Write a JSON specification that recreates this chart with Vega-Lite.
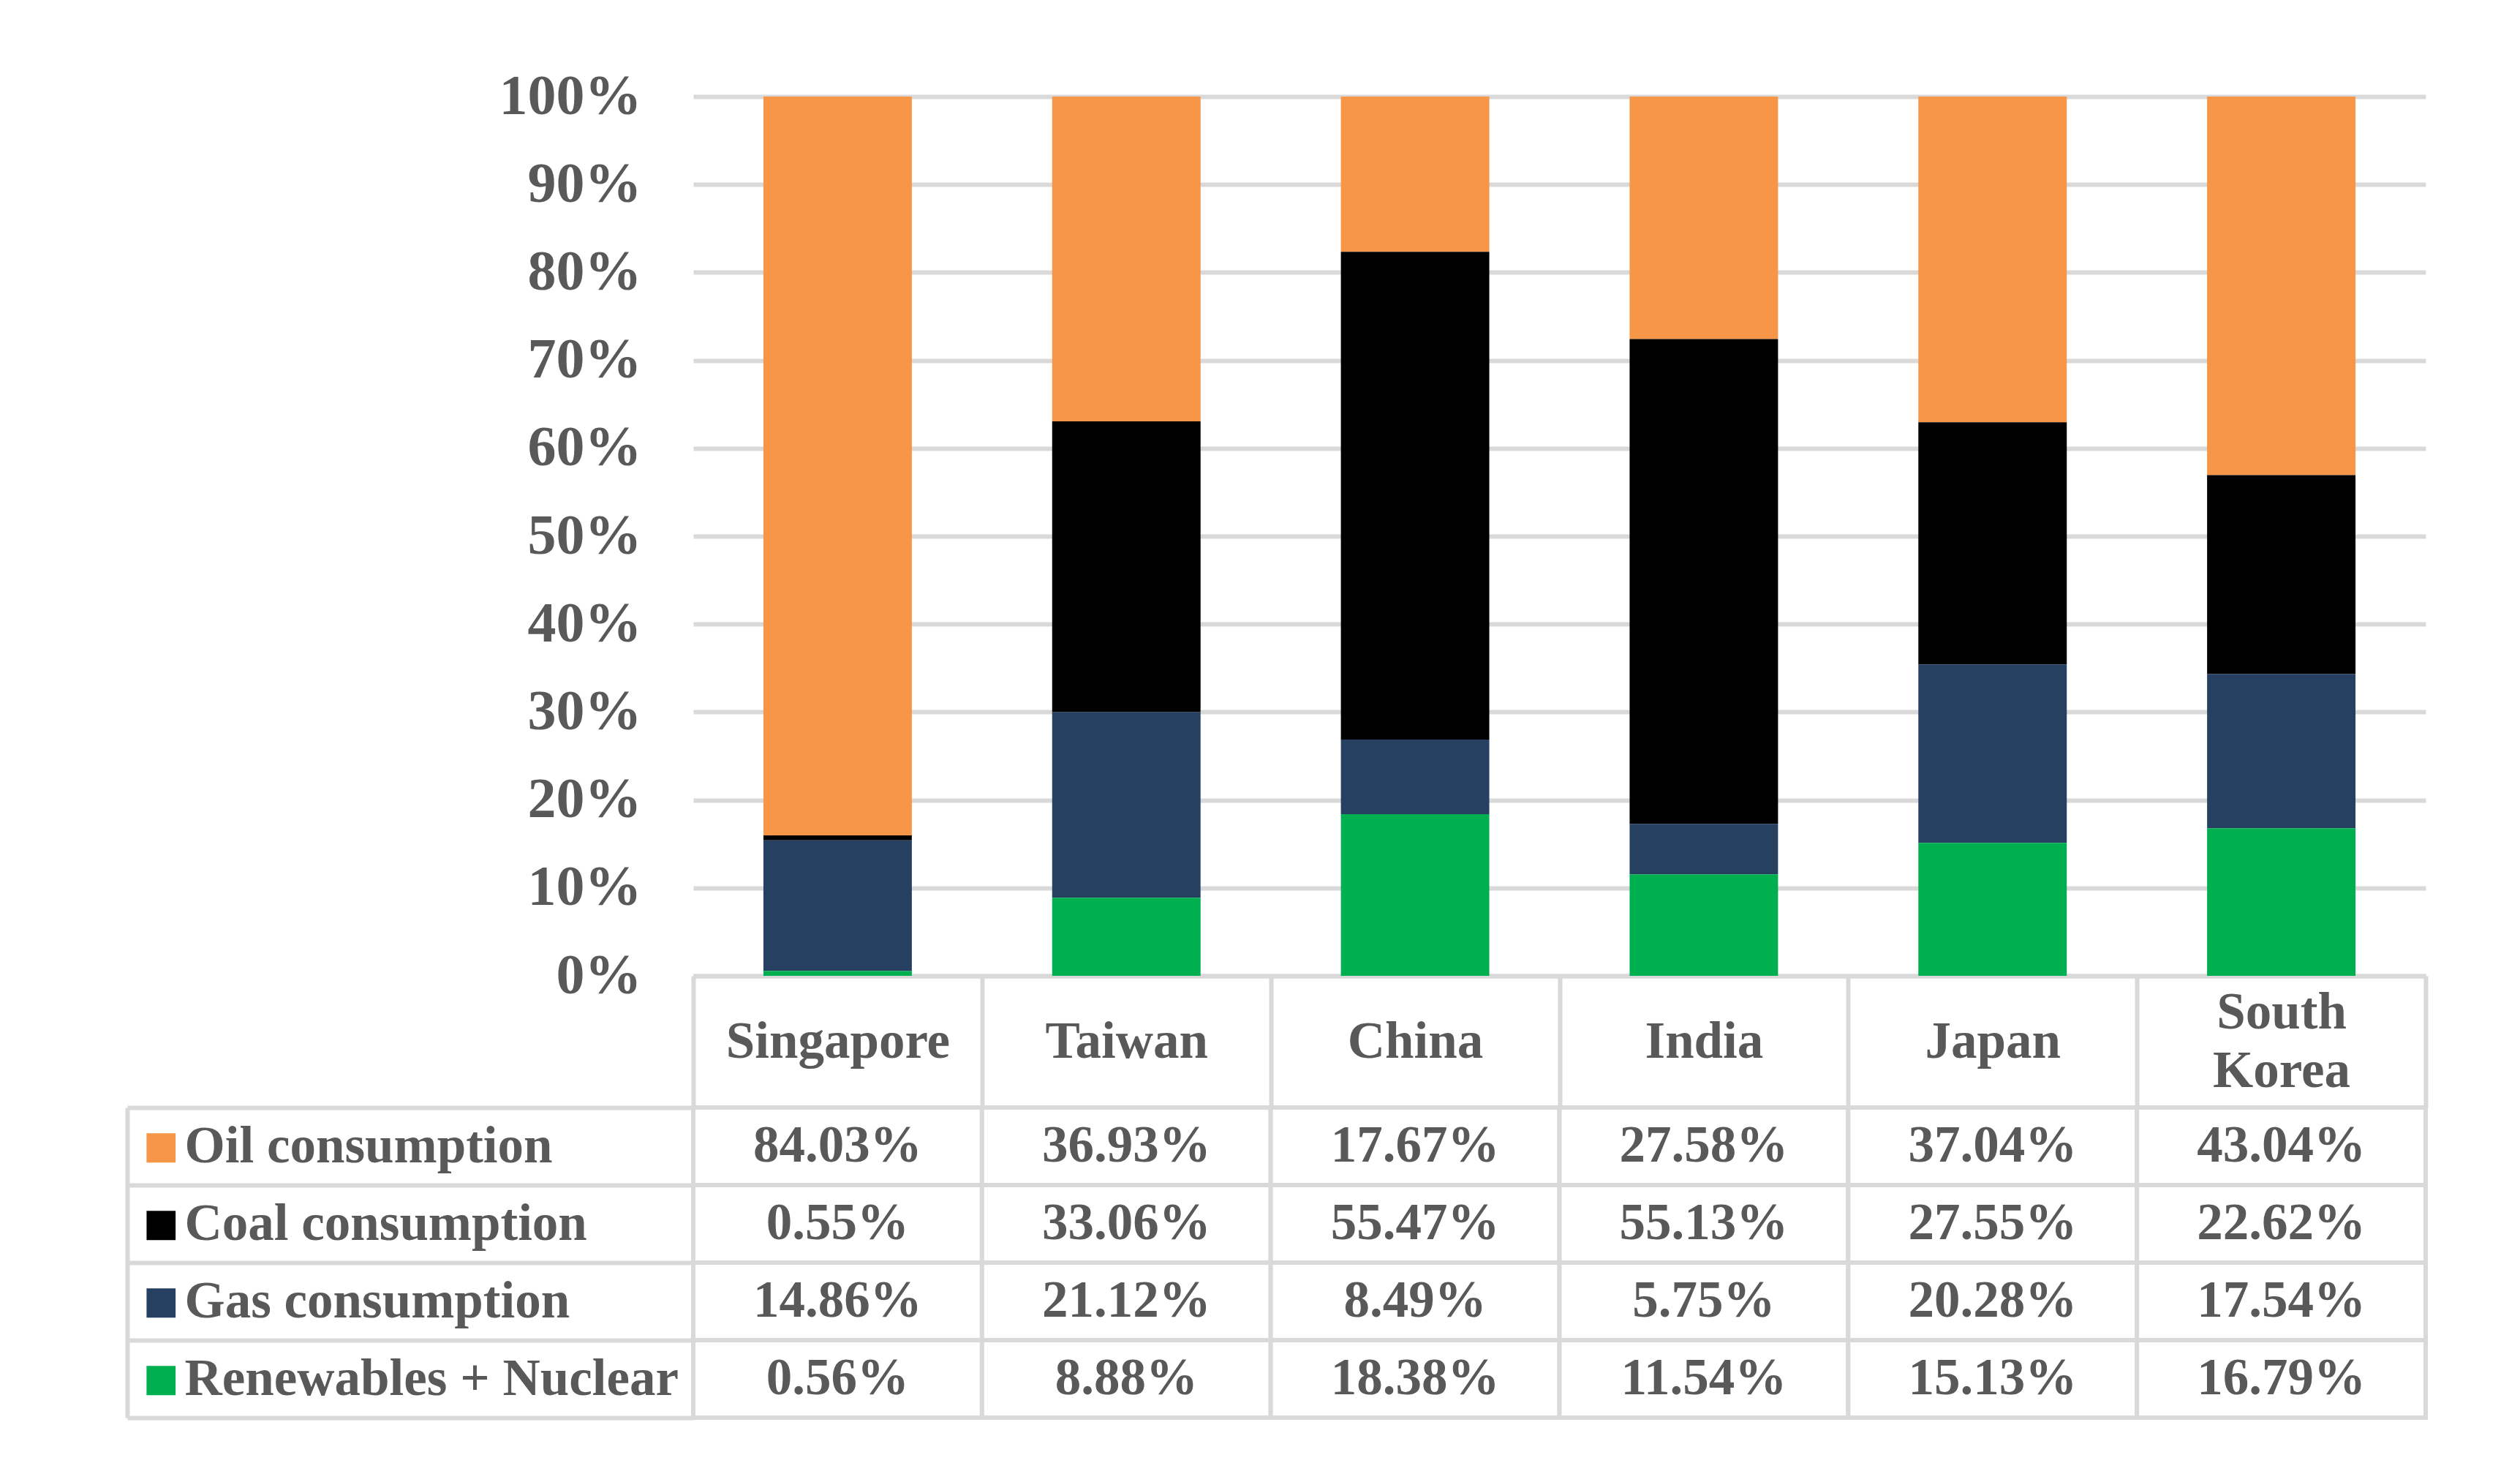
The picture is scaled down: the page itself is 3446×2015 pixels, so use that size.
{
  "$schema": "https://vega.github.io/schema/vega-lite/v6.json",
  "background": "white",
  "padding": {"left": 171, "top": 93, "right": 20, "bottom": 20},
  "config": {
    "font": "Liberation Serif",
    "axis": {"labelFont": "Liberation Serif", "labelFontWeight": "bold", "labelColor": "#595959", "labelLimit": 2000, "labelOverlap": false, "labelFlush": false}
  },
  "datasets": {
    "energy": [
      {"country": "Singapore", "series": "Oil consumption", "value": 0.8403, "rank": 4},
      {"country": "Singapore", "series": "Coal consumption", "value": 0.0055, "rank": 3},
      {"country": "Singapore", "series": "Gas consumption", "value": 0.1486, "rank": 2},
      {"country": "Singapore", "series": "Renewables + Nuclear", "value": 0.0056, "rank": 1},
      {"country": "Taiwan", "series": "Oil consumption", "value": 0.3693, "rank": 4},
      {"country": "Taiwan", "series": "Coal consumption", "value": 0.3306, "rank": 3},
      {"country": "Taiwan", "series": "Gas consumption", "value": 0.2112, "rank": 2},
      {"country": "Taiwan", "series": "Renewables + Nuclear", "value": 0.0888, "rank": 1},
      {"country": "China", "series": "Oil consumption", "value": 0.1767, "rank": 4},
      {"country": "China", "series": "Coal consumption", "value": 0.5547, "rank": 3},
      {"country": "China", "series": "Gas consumption", "value": 0.0849, "rank": 2},
      {"country": "China", "series": "Renewables + Nuclear", "value": 0.1838, "rank": 1},
      {"country": "India", "series": "Oil consumption", "value": 0.2758, "rank": 4},
      {"country": "India", "series": "Coal consumption", "value": 0.5513, "rank": 3},
      {"country": "India", "series": "Gas consumption", "value": 0.0575, "rank": 2},
      {"country": "India", "series": "Renewables + Nuclear", "value": 0.1154, "rank": 1},
      {"country": "Japan", "series": "Oil consumption", "value": 0.3704, "rank": 4},
      {"country": "Japan", "series": "Coal consumption", "value": 0.2755, "rank": 3},
      {"country": "Japan", "series": "Gas consumption", "value": 0.2028, "rank": 2},
      {"country": "Japan", "series": "Renewables + Nuclear", "value": 0.1513, "rank": 1},
      {"country": "South Korea", "series": "Oil consumption", "value": 0.4304, "rank": 4},
      {"country": "South Korea", "series": "Coal consumption", "value": 0.2262, "rank": 3},
      {"country": "South Korea", "series": "Gas consumption", "value": 0.1754, "rank": 2},
      {"country": "South Korea", "series": "Renewables + Nuclear", "value": 0.1679, "rank": 1}
    ]
  },
  "spacing": 180,
  "bounds": "flush",
  "resolve": {"scale": {"x": "independent", "y": "independent", "color": "independent"}},
  "vconcat": [
    {
      "width": 2369,
      "height": 1202,
      "view": {"stroke": null},
      "data": {"name": "energy"},
      "mark": {"type": "bar", "width": {"band": 0.514}},
      "encoding": {
        "x": {
          "field": "country", "type": "nominal",
          "sort": ["Singapore", "Taiwan", "China", "India", "Japan", "South Korea"],
          "scale": {"paddingInner": 0, "paddingOuter": 0},
          "axis": {
            "title": null, "labelAngle": 0,
            "domainColor": "#d9d9d9", "domainWidth": 6,
            "tickColor": "#d9d9d9", "tickWidth": 6, "tickSize": 180, "tickBand": "extent",
            "labelPadding": {"expr": "datum.value == 'South Korea' ? -130 : -90"},
            "labelBaseline": "middle", "labelAlign": "center",
            "labelFontSize": 71, "labelLineHeight": 80,
            "labelExpr": "datum.label == 'South Korea' ? ['South', 'Korea'] : datum.label"
          }
        },
        "y": {
          "field": "value", "type": "quantitative", "stack": "zero",
          "scale": {"domain": [0, 1], "nice": false},
          "axis": {
            "title": null, "format": ".0%",
            "values": [0, 0.1, 0.2, 0.3, 0.4, 0.5, 0.6, 0.7, 0.8, 0.9, 1],
            "grid": true, "gridColor": "#d9d9d9", "gridWidth": 6,
            "domain": false, "ticks": false,
            "labelPadding": 71, "labelFontSize": 78, "labelBaseline": "middle"
          }
        },
        "color": {
          "field": "series", "type": "nominal",
          "scale": {
            "domain": ["Oil consumption", "Coal consumption", "Gas consumption", "Renewables + Nuclear"],
            "range": ["#F79646", "#000000", "#254061", "#00B050"]
          },
          "legend": null
        },
        "order": {"field": "rank", "type": "quantitative"}
      }
    },
    {
      "width": 2369,
      "height": 424,
      "view": {"stroke": null},
      "data": {"name": "energy"},
      "resolve": {"axis": {"y": "independent"}},
      "layer": [
        {
          "mark": {"type": "rect", "fill": "white", "stroke": "#d9d9d9", "strokeWidth": 6},
          "encoding": {
            "x": {
              "field": "country", "type": "nominal",
              "sort": ["Singapore", "Taiwan", "China", "India", "Japan", "South Korea"],
              "scale": {"paddingInner": 0, "paddingOuter": 0},
              "axis": null
            },
            "y": {
              "field": "series", "type": "nominal",
              "sort": ["Oil consumption", "Coal consumption", "Gas consumption", "Renewables + Nuclear"],
              "scale": {"paddingInner": 0, "paddingOuter": 0},
              "axis": {
                "orient": "left", "title": null,
                "domain": false,
                "ticks": true, "tickSize": 774, "tickBand": "extent", "tickColor": "#d9d9d9", "tickWidth": 6,
                "labelAlign": "left", "labelBaseline": "middle", "labelPadding": -78,
                "labelFontSize": 71
              }
            }
          }
        },
        {
          "mark": {"type": "text", "font": "Liberation Serif", "fontWeight": "bold", "fontSize": 71, "color": "#595959", "baseline": "middle", "align": "center"},
          "encoding": {
            "x": {
              "field": "country", "type": "nominal",
              "sort": ["Singapore", "Taiwan", "China", "India", "Japan", "South Korea"],
              "axis": null
            },
            "y": {
              "field": "series", "type": "nominal",
              "sort": ["Oil consumption", "Coal consumption", "Gas consumption", "Renewables + Nuclear"],
              "axis": {
                "orient": "left", "title": null, "offset": 774,
                "domain": true, "domainColor": "#d9d9d9", "domainWidth": 6,
                "ticks": false,
                "labelAlign": "left", "labelBaseline": "middle", "labelPadding": -21,
                "labelFont": "DejaVu Sans", "labelFontWeight": "normal", "labelFontSize": 52,
                "labelExpr": "'■'",
                "labelColor": {"expr": "datum.value == 'Oil consumption' ? '#F79646' : datum.value == 'Coal consumption' ? '#000000' : datum.value == 'Gas consumption' ? '#254061' : '#00B050'"}
              }
            },
            "text": {"field": "value", "type": "quantitative", "format": ".2%"}
          }
        }
      ]
    }
  ]
}
